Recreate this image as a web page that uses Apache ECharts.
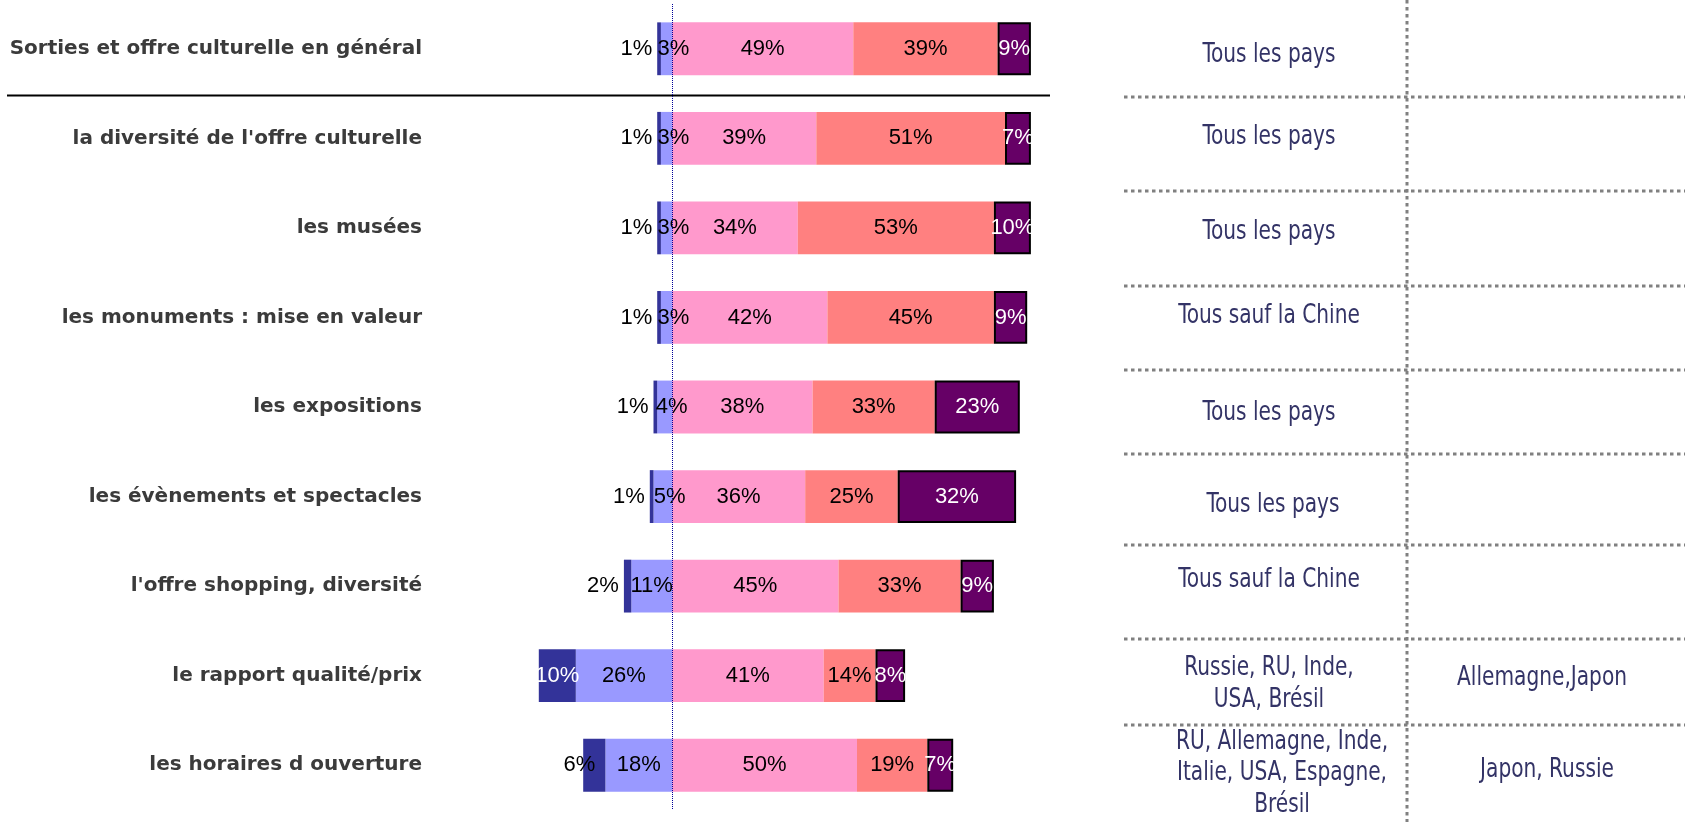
<!DOCTYPE html>
<html>
<head>
<meta charset="utf-8">
<style>
  html, body { margin: 0; padding: 0; background: #fff; }
  #chart { width: 1685px; height: 822px; }
</style>
<script src="https://cdn.jsdelivr.net/npm/echarts@6/dist/echarts.min.js"></script>
</head>
<body>
<div id="chart"></div>
<script>
// ---------- DATA ----------
const categories = [
  "Sorties et offre culturelle en général",
  "la diversité de l'offre culturelle",
  "les musées",
  "les monuments : mise en valeur",
  "les expositions",
  "les évènements et spectacles",
  "l'offre shopping, diversité",
  "le rapport qualité/prix",
  "les horaires d ouverture"
];
const seriesNames = ["Pas du tout satisfait", "Peu satisfait", "Assez satisfait", "Satisfait", "Très satisfait"];
const tresInsatisfait = [1, 1, 1, 1, 1, 1, 2, 10, 6];
const peuSatisfait    = [3, 3, 3, 3, 4, 5, 11, 26, 18];
const assezSatisfait  = [49, 39, 34, 42, 38, 36, 45, 41, 50];
const satisfait       = [39, 51, 53, 45, 33, 25, 33, 14, 19];
const tresSatisfait   = [9, 7, 10, 9, 23, 32, 9, 8, 7];
const tableCol1 = [
  "Tous les pays", "Tous les pays", "Tous les pays", "Tous sauf la Chine",
  "Tous les pays", "Tous les pays", "Tous sauf la Chine",
  "Russie, RU, Inde,\nUSA, Brésil",
  "RU, Allemagne, Inde,\nItalie, USA, Espagne,\nBrésil"
];
const tableCol2 = ["", "", "", "", "", "", "", "Allemagne,Japon", "Japon, Russie"];

// ---------- LAYOUT (not data) ----------
const col1X = [1269, 1269, 1269, 1269, 1269, 1273, 1269, 1269, 1282];
const col1Y = [55, 137, 232, 316, 413, 505, 580, 684, 773];
const col2X = [1542, 1542, 1542, 1542, 1542, 1542, 1542, 1542, 1547];
const col2Y = [55, 137, 232, 316, 413, 505, 580, 678, 770];
const tableHLines = [97, 191, 286, 370, 454, 545, 639, 725];
const tableLeft = 1124, tableVX = 1407;

const colors = ['#333399', '#9999FF', '#FF99CC', '#FF8080', '#660066'];
const labelFont = { fontFamily: 'Liberation Sans, Arial, sans-serif', fontSize: 22 };
const pct = p => Math.abs(p.value) + '%';

const chart = echarts.init(document.getElementById('chart'), null, { renderer: 'canvas' });

const darkData = tresInsatisfait.map(v => ({
  value: -v,
  label: v >= 10 ? { position: 'inside', color: '#fff' }
       : v >= 5 ? { position: 'left', distance: -12, color: '#000' }
       : { position: 'left', distance: 5, color: '#000' }
}));
const lightData = peuSatisfait.map(v => ({
  value: -v,
  label: v <= 5 ? { offset: [7, 0] } : {}
}));

const option = {
  animation: false,
  backgroundColor: '#fff',
  grid: { left: 524, top: 4, width: 518, height: 806, containLabel: false, outerBoundsMode: 'none' },
  xAxis: {
    type: 'value', min: -40, max: 100, show: false,
    splitLine: { show: false }
  },
  yAxis: {
    type: 'category', data: categories, inverse: true,
    axisLine: { show: false }, axisTick: { show: false }, splitLine: { show: false },
    axisLabel: {
      margin: 102, align: 'right', color: '#3b3b3b',
      fontFamily: 'DejaVu Sans, sans-serif', fontWeight: 'bold', fontSize: 20
    }
  },
  series: [
    {
      name: seriesNames[1], type: 'bar', stack: 'tot', barWidth: '59%',
      data: lightData,
      itemStyle: { color: colors[1] },
      label: Object.assign({ show: true, position: 'inside', color: '#000', formatter: pct }, labelFont),
      markLine: {
        silent: true, symbol: 'none', label: { show: false },
        lineStyle: { color: '#000099', type: 'dotted', width: 1 },
        data: [{ xAxis: 0 }]
      }
    },
    {
      name: seriesNames[0], type: 'bar', stack: 'tot', barWidth: '59%',
      data: darkData,
      itemStyle: { color: colors[0] },
      label: Object.assign({ show: true, formatter: pct }, labelFont)
    },
    {
      name: seriesNames[2], type: 'bar', stack: 'tot', barWidth: '59%',
      data: assezSatisfait,
      itemStyle: { color: colors[2] },
      label: Object.assign({ show: true, position: 'inside', color: '#000', formatter: pct }, labelFont)
    },
    {
      name: seriesNames[3], type: 'bar', stack: 'tot', barWidth: '59%',
      data: satisfait,
      itemStyle: { color: colors[3] },
      label: Object.assign({ show: true, position: 'inside', color: '#000', formatter: pct }, labelFont)
    },
    {
      name: seriesNames[4], type: 'bar', stack: 'tot', barWidth: '59%',
      data: tresSatisfait,
      itemStyle: { color: colors[4], borderColor: '#000', borderWidth: 2 },
      label: Object.assign({ show: true, position: 'inside', color: '#fff', formatter: pct }, labelFont)
    }
  ]
};
chart.setOption(option);

// ---------- Decorations: separator + right-hand table ----------
const y0 = chart.convertToPixel({ yAxisIndex: 0 }, categories[0]);
const y1 = chart.convertToPixel({ yAxisIndex: 0 }, categories[1]);
const sepY = (y0 + y1) / 2 + 2;

const dotted = { stroke: '#808080', lineWidth: 3, lineDash: [3.5, 3.5] };
const tableFont = { fontFamily: 'Liberation Sans Narrow, DejaVu Sans Condensed, sans-serif', fontSize: 27 };
const graphics = [];
graphics.push({ type: 'line', shape: { x1: 7, y1: sepY, x2: 1050, y2: sepY }, style: { stroke: '#000', lineWidth: 2 }, silent: true });
graphics.push({ type: 'line', shape: { x1: tableVX, y1: 0, x2: tableVX, y2: 822 }, style: dotted, silent: true });
tableHLines.forEach(y => {
  graphics.push({ type: 'line', shape: { x1: tableLeft, y1: y, x2: 1685, y2: y }, style: dotted, silent: true });
});
const addText = (t, x, y) => {
  graphics.push({ type: 'text', x: x, y: y, scaleX: 0.83, silent: true,
    style: Object.assign({ text: t, fill: '#333366', align: 'center', verticalAlign: 'middle', lineHeight: 31.5 }, tableFont) });
};
tableCol1.forEach((t, i) => { if (t) addText(t, col1X[i], col1Y[i]); });
tableCol2.forEach((t, i) => { if (t) addText(t, col2X[i], col2Y[i]); });
chart.setOption({ graphic: graphics });
</script>
</body>
</html>
